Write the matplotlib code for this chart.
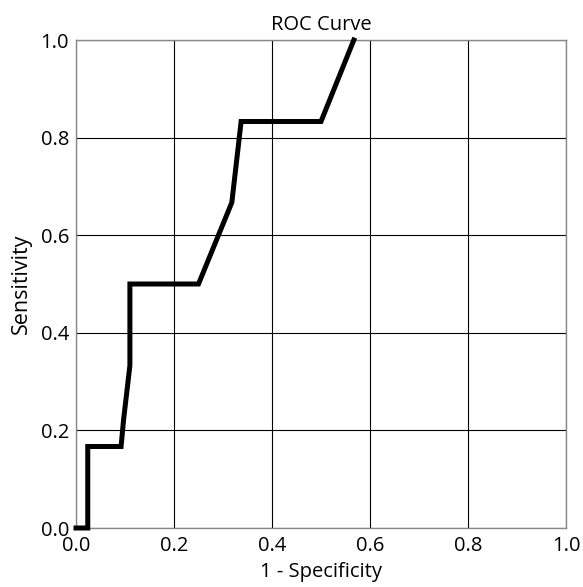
import matplotlib
matplotlib.use("Agg")
import matplotlib.pyplot as plt

fpr = [0.0, 0.024, 0.024, 0.092, 0.097, 0.110, 0.110, 0.250, 0.318, 0.337, 0.500, 0.567]
tpr = [0.0, 0.0, 0.167, 0.167, 0.221, 0.333, 0.500, 0.500, 0.667, 0.833, 0.833, 1.0]
ticks = [0.0, 0.2, 0.4, 0.6, 0.8, 1.0]
tick_labels = ["0.0", "0.2", "0.4", "0.6", "0.8", "1.0"]

plt.rcParams['font.family'] = ['Open Sans', 'DejaVu Sans']
fig = plt.figure(figsize=(5.83, 5.87), dpi=100)
ax = fig.add_axes([76/583, 59/587, 490/583, 488/587])
ax.plot(fpr, tpr, color='black', linewidth=3.6, clip_on=False, solid_joinstyle='miter', zorder=3)
ax.set_xlim(0, 1)
ax.set_ylim(0, 1)
ax.set_xticks(ticks)
ax.set_xticklabels(tick_labels)
ax.set_yticks(ticks)
ax.set_yticklabels(tick_labels)
ax.grid(True, color='black', linewidth=0.8)
ax.tick_params(axis='x', length=0, labelsize=14.5, pad=6)
ax.tick_params(axis='y', length=0, labelsize=14.5, pad=5)
for s in ax.spines.values():
    s.set_color('#888888')
    s.set_linewidth(1.0)
ax.set_xlabel("1 - Specificity", fontsize=14.5, labelpad=4)
ax.set_ylabel("Sensitivity", fontsize=15.5, labelpad=6)
ax.set_title("ROC Curve", fontsize=14.5, pad=7)
fig.savefig("out.png", dpi=100)
